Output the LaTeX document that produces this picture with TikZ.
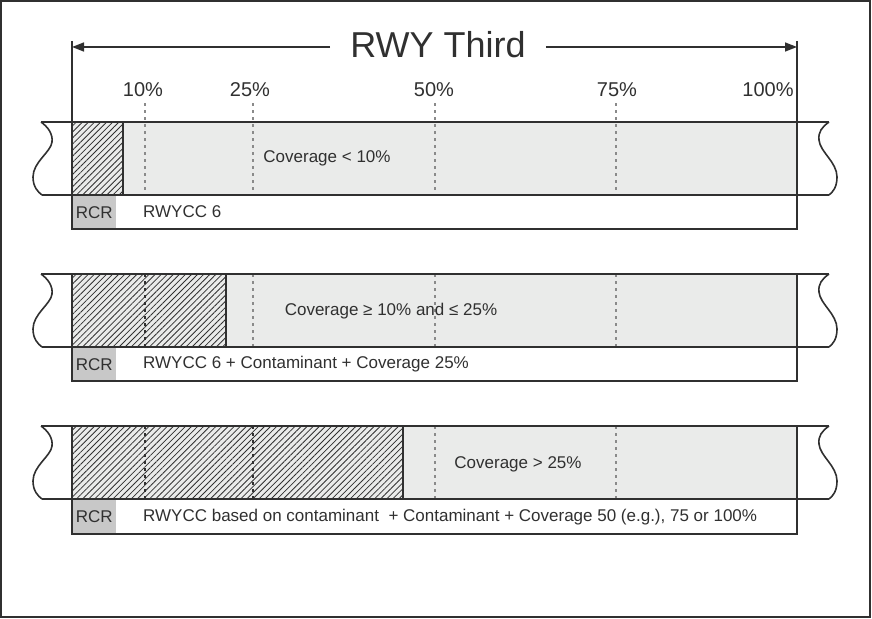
\documentclass[tikz,border=0pt]{standalone}
\usepackage{fontspec}
\setmainfont{Liberation Sans}
\usetikzlibrary{arrows.meta,patterns.meta}
\definecolor{ink}{HTML}{303030}
\definecolor{strip}{HTML}{EAEBEA}
\definecolor{rcrgrey}{HTML}{C8C8C8}
\definecolor{tickgrey}{HTML}{8A8A8A}

\begin{document}
\begin{tikzpicture}[x=1pt,y=-1pt]
   \tikzstyle{every node}=[text=ink, inner sep=0pt]
   \tikzstyle{edge}=[draw=ink, line width=1.6pt]
   \tikzstyle{tick}=[draw=tickgrey, line width=2pt, dash pattern=on 3pt off 4pt]
   \tikzstyle{darktick}=[tick, draw=ink]
   \tikzstyle{hatch}=[pattern={Lines[angle=45,distance=4.3pt,line width=0.8pt]}, pattern color=ink]
   \tikzstyle{pct}=[font=\fontsize{20}{24}\selectfont]
   \tikzstyle{small}=[font=\fontsize{17}{20}\selectfont]
   \tikzstyle{rcr}=[small, fill=rcrgrey, minimum width=44pt, minimum height=34pt, anchor=north west]
   \tikzstyle{tip}=[-{Triangle[length=12pt,width=9pt]}]

\useasboundingbox (0,0) rectangle (872,618);
\draw[ink, line width=2pt] (1,1) rectangle (869.5,616.5);

% scale
\node[font=\fontsize{36}{43}\selectfont, inner xsep=20pt] (title) at (438,45) {RWY Third};
\coordinate (tl) at (72,47);
\coordinate (tr) at (797,47);
\draw[edge, tip] (title.west |- tl) -- (tl);
\draw[edge, tip] (title.east |- tr) -- (tr);
\draw[edge] (72,41) -- (72,122) (797,41) -- (797,122);
\node[pct] (p10) at (143,90) {10\%};
\node[pct] (p25) at (250,90) {25\%};
\node[pct] (p50) at (434,90) {50\%};
\node[pct] (p75) at (617,90) {75\%};
\node[pct] (p100) at (768,90) {100\%};

% coverage < 10%
\fill[strip] (72,122) rectangle (797,195);
\path[hatch] (72,122) rectangle (123,195);
\draw[tick] (144.5,103) -- (144.5,195) (253,103) -- (253,195)
   (434.5,103) -- (434.5,195) (616,103) -- (616,195);
\node[rcr] (rcr1) at (72,195) {RCR};
\draw[edge] (41,122) -- (829,122) (42,195) -- (829,195) (123,122) -- (123,195)
   (72,122) rectangle (797,229);
\draw[edge] (41,122) .. controls (48,127) and (53,134) .. (52,142)
   .. controls (51,152) and (33,162) .. (33,177) .. controls (33,187) and (38,192) .. (42,195);
\draw[edge] (829,122) .. controls (822,127) and (818,132) .. (819,140)
   .. controls (820,152) and (837,162) .. (837,177) .. controls (837,187) and (833,192) .. (829,195);
\node[small] (cov1) at (327,158) {Coverage < 10\%};
\node[small, anchor=west] (cc1) at (143,212) {RWYCC 6};

% coverage 10% to 25%
\fill[strip] (72,274) rectangle (797,347);
\path[hatch] (72,274) rectangle (226,347);
\draw[darktick] (144.5,274) -- (144.5,347);
\draw[tick] (253,274) -- (253,347) (434.5,274) -- (434.5,347) (616,274) -- (616,347);
\node[rcr] (rcr2) at (72,347) {RCR};
\draw[edge] (41,274) -- (829,274) (42,347) -- (829,347) (226,274) -- (226,347)
   (72,274) rectangle (797,381);
\draw[edge] (41,274) .. controls (48,279) and (53,286) .. (52,294)
   .. controls (51,304) and (33,314) .. (33,329) .. controls (33,339) and (38,344) .. (42,347);
\draw[edge] (829,274) .. controls (822,279) and (818,284) .. (819,292)
   .. controls (820,304) and (837,314) .. (837,329) .. controls (837,339) and (833,344) .. (829,347);
\node[small] (cov2) at (391,311) {Coverage ≥ 10\% and ≤ 25\%};
\node[small, anchor=west] (cc2) at (143,364) {RWYCC 6 + Contaminant + Coverage 25\%};

% coverage > 25%
\fill[strip] (72,426) rectangle (797,499);
\path[hatch] (72,426) rectangle (403,499);
\draw[darktick] (144.5,426) -- (144.5,499) (253,426) -- (253,499);
\draw[tick] (434.5,426) -- (434.5,499) (616,426) -- (616,499);
\node[rcr] (rcr3) at (72,499) {RCR};
\draw[edge] (41,426) -- (829,426) (42,499) -- (829,499) (403,426) -- (403,499)
   (72,426) rectangle (797,534);
\draw[edge] (41,426) .. controls (48,431) and (53,438) .. (52,446)
   .. controls (51,456) and (33,466) .. (33,481) .. controls (33,491) and (38,496) .. (42,499);
\draw[edge] (829,426) .. controls (822,431) and (818,436) .. (819,444)
   .. controls (820,456) and (837,466) .. (837,481) .. controls (837,491) and (833,496) .. (829,499);
\node[small] (cov3) at (518,464) {Coverage > 25\%};
\node[small, anchor=west] (cc3) at (143,517) {RWYCC based on contaminant~ + Contaminant + Coverage 50 (e.g.), 75 or 100\%};

\end{tikzpicture}
\end{document}
